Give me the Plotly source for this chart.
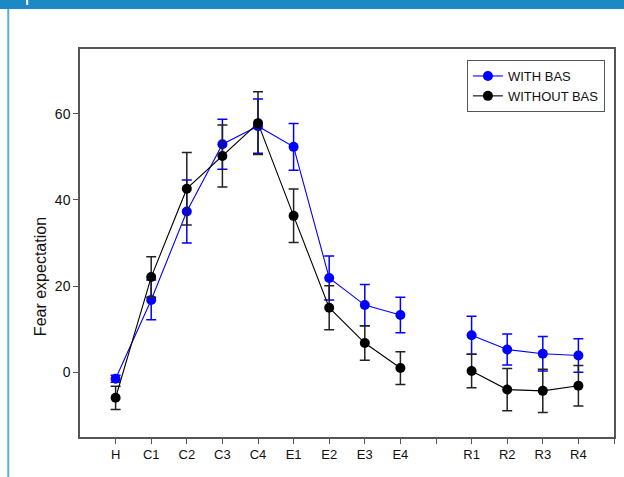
import plotly.graph_objects as go

# ---- data ----
tick_labels = ["H", "C1", "C2", "C3", "C4", "E1", "E2", "E3", "E4", "", "R1", "R2", "R3", "R4", ""]
categories = ["H", "C1", "C2", "C3", "C4", "E1", "E2", "E3", "E4", "R1", "R2", "R3", "R4"]

with_bas = [-1.5, 16.8, 37.3, 52.9, 57.1, 52.3, 21.9, 15.6, 13.3, 8.6, 5.3, 4.3, 3.9]
with_bas_err = [0.8, 4.6, 7.3, 5.8, 6.3, 5.4, 5.1, 4.8, 4.1, 4.4, 3.6, 4.0, 3.9]

without_bas = [-5.9, 22.1, 42.6, 50.2, 57.8, 36.3, 15.0, 6.8, 1.0, 0.3, -4.0, -4.3, -3.1]
without_bas_err = [2.7, 4.7, 8.4, 7.2, 7.3, 6.2, 5.1, 4.0, 3.8, 3.9, 4.9, 5.0, 4.7]

y_ticks = [0, 20, 40, 60]


def with_gaps(vals, errs):
    xs, ys, es = [], [], []
    prev = None
    for c, v, e in zip(categories, vals, errs):
        pos = tick_labels.index(c)
        if prev is not None and pos - prev > 1:
            xs.append(None); ys.append(None); es.append(None)
        xs.append(pos); ys.append(v); es.append(e)
        prev = pos
    return xs, ys, es


fig = go.Figure()

series = [
    ("WITH BAS", with_bas, with_bas_err, "#0000ff", "#0000ff"),
    ("WITHOUT BAS", without_bas, without_bas_err, "#000000", "#222222"),
]
for name, vals, errs, col, ecol in series:
    xs, ys, es = with_gaps(vals, errs)
    fig.add_trace(go.Scatter(
        x=xs, y=ys, name=name, mode="lines+markers",
        connectgaps=False,
        line=dict(color=col, width=1.1),
        marker=dict(color=col, size=10, symbol="circle"),
        error_y=dict(type="data", array=es, visible=True,
                     color=ecol, thickness=1.5, width=5),
    ))

axis_col = "#555555"
fig.update_xaxes(
    range=[-1, 14],
    tickvals=list(range(len(tick_labels))),
    ticktext=tick_labels,
    showline=True, mirror=True, linecolor=axis_col, linewidth=1.5,
    ticks="outside", ticklen=5, tickwidth=1.2, tickcolor=axis_col,
    showgrid=False, zeroline=False,
    tickfont=dict(family="Liberation Sans, Arial, sans-serif", size=13, color="#111111"),
)
fig.update_yaxes(
    range=[-15, 75],
    tickvals=y_ticks,
    showline=True, mirror=True, linecolor=axis_col, linewidth=1.5,
    ticks="outside", ticklen=5, tickwidth=1.2, tickcolor=axis_col,
    showgrid=False, zeroline=False,
    tickfont=dict(family="Liberation Sans, Arial, sans-serif", size=14, color="#111111"),
)

fig.add_annotation(
    text="Fear expectation", textangle=-90,
    xref="paper", yref="paper", x=0, y=0.412, xshift=-40,
    xanchor="center", yanchor="middle", showarrow=False,
    font=dict(family="Liberation Sans, Arial, sans-serif", size=16, color="#111111"),
)

# page decoration: header bar and left border
fig.add_shape(type="rect", xref="paper", yref="paper",
              x0=-0.16, x1=1.03, y0=(437 - 9) / 388, y1=1.14,
              fillcolor="#1b8ac4", line=dict(width=0), layer="above")
fig.add_shape(type="rect", xref="paper", yref="paper",
              x0=(26 - 80) / 536, x1=(28 - 80) / 536, y0=(437 - 5) / 388, y1=1.14,
              fillcolor="#ffffff", line=dict(width=0), layer="above")
fig.add_shape(type="rect", xref="paper", yref="paper",
              x0=(7 - 80) / 536, x1=(9 - 80) / 536, y0=-0.2, y1=(437 - 9) / 388,
              fillcolor="#5aaedb", line=dict(width=0), layer="above")

fig.update_layout(
    width=624, height=477,
    margin=dict(l=80, r=8, t=49, b=40),
    paper_bgcolor="white", plot_bgcolor="white",
    font=dict(family="Liberation Sans, Arial, sans-serif", color="#111111"),
    showlegend=True,
    legend=dict(x=0.983, y=0.9716, xanchor="right", yanchor="top",
                bordercolor="#555555", borderwidth=1, bgcolor="white",
                font=dict(size=13, color="#111111"),
                tracegroupgap=0, itemwidth=30),
)

fig.write_html("out.html",
               config={"displayModeBar": False},
               post_script="document.body.style.margin='0';document.body.style.padding='0';")
